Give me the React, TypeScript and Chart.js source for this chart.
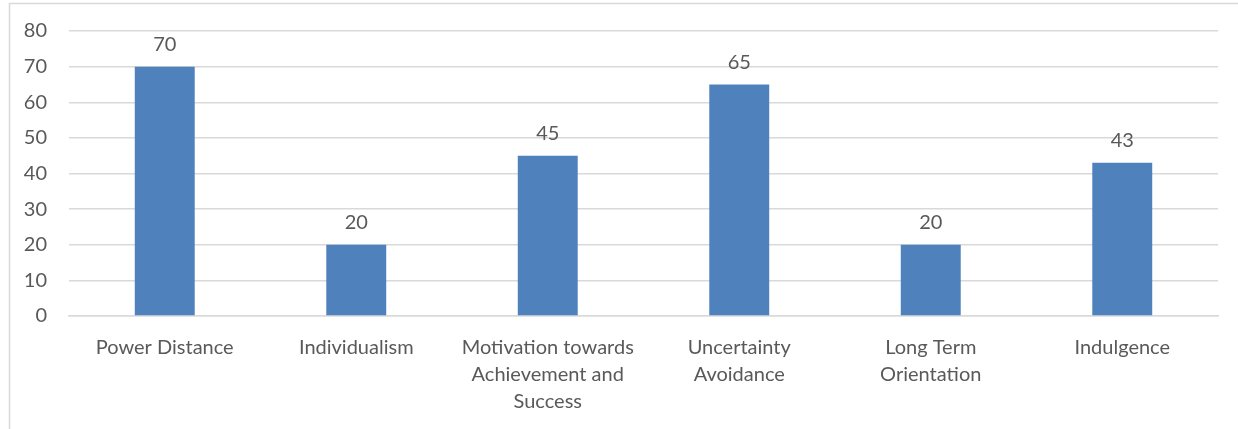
import React, { useEffect, useRef } from "react";
import { Chart, registerables } from "chart.js";

Chart.register(...registerables);

const categories: (string | string[])[] = [
  "Power Distance",
  "Individualism",
  ["Motivation towards", "Achievement and", "Success"],
  ["Uncertainty", "Avoidance"],
  ["Long Term", "Orientation"],
  "Indulgence",
];
const values: number[] = [70, 20, 45, 65, 20, 43];
const yTicks: number[] = [0, 10, 20, 30, 40, 50, 60, 70, 80];

const FONT = "Lato, 'Open Sans', sans-serif";
const TEXT = "#595959";

export default function App() {
  const ref = useRef<HTMLCanvasElement>(null);
  useEffect(() => {
    document.body.style.margin = "0";
    const canvas = ref.current!;
    const frame = {
      id: "frame",
      beforeDraw(chart: any) {
        const c = chart.ctx;
        c.save();
        c.fillStyle = "#ffffff";
        c.fillRect(0, 0, chart.width, chart.height);
        c.strokeStyle = "#D9D9D9";
        c.lineWidth = 1.5;
        c.strokeRect(9.5, 3.5, chart.width + 20, chart.height + 20);
        c.restore();
      },
    };
    const labels = {
      id: "valueLabels",
      afterDatasetsDraw(chart: any) {
        const c = chart.ctx;
        const meta = chart.getDatasetMeta(0);
        c.save();
        c.fillStyle = TEXT;
        c.font = `20px ${FONT}`;
        c.textAlign = "center";
        c.textBaseline = "bottom";
        meta.data.forEach((el: any, i: number) => {
          c.fillText(String(values[i]), el.x, el.y - 12);
        });
        c.restore();
      },
    };
    const chart = new Chart(canvas, {
      type: "bar",
      data: {
        labels: categories,
        datasets: [
          {
            data: values,
            backgroundColor: "#4F81BD",
            borderWidth: 0,
            barPercentage: 1,
            categoryPercentage: 0.313,
          },
        ],
      },
      options: {
        animation: false,
        responsive: false,
        maintainAspectRatio: false,
        layout: { padding: { left: 0, right: 20, top: 31, bottom: 0 } },
        plugins: { legend: { display: false }, tooltip: { enabled: false } },
        scales: {
          x: {
            grid: { display: false, drawTicks: false },
            border: { display: true, color: "#D9D9D9", width: 1.5 },
            ticks: {
              color: TEXT,
              font: { family: FONT, size: 20, lineHeight: 1.35 },
              padding: 18,
              maxRotation: 0,
              autoSkip: false,
            },
            afterFit(scale: any) {
              scale.height = 113;
            },
          },
          y: {
            min: 0,
            max: 80,
            afterBuildTicks(scale: any) {
              scale.ticks = yTicks.map((v) => ({ value: v }));
            },
            grid: { color: "#D9D9D9", lineWidth: 1.5, drawTicks: false },
            border: { display: false },
            ticks: {
              color: TEXT,
              font: { family: FONT, size: 20 },
              padding: 22,
            },
            afterFit(scale: any) {
              scale.width = 69;
              scale.paddingTop = 0;
              scale.paddingBottom = 0;
            },
          },
        },
      },
      plugins: [frame, labels],
    });
    return () => chart.destroy();
  }, []);
  return <canvas ref={ref} width={1238} height={429} style={{ display: "block" }} />;
}
